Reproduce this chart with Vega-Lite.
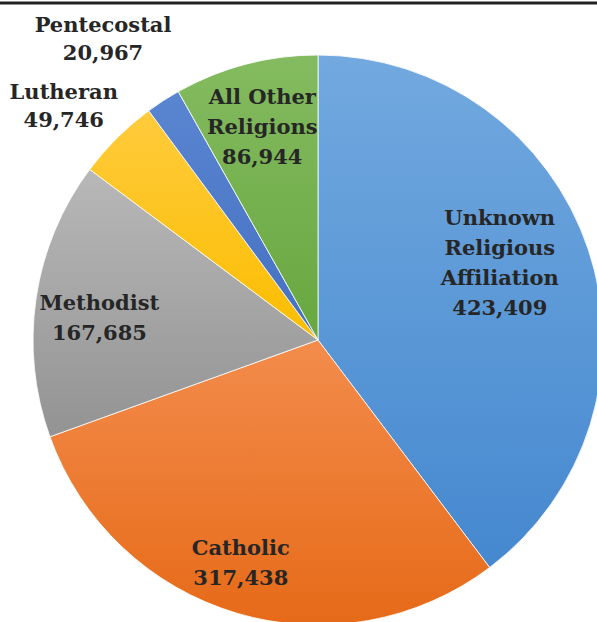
{
  "$schema": "https://vega.github.io/schema/vega-lite/v6.json",
  "width": 636,
  "height": 680,
  "autosize": {"type": "none"},
  "padding": 0,
  "background": "white",
  "config": {"view": {"stroke": null}},
  "data": {"values": [
    {"cat": "Unknown Religious Affiliation", "value": 423409, "ord": 1, "label": "Unknown\nReligious\nAffiliation\n423,409"},
    {"cat": "Catholic", "value": 317438, "ord": 2, "label": "Catholic\n317,438"},
    {"cat": "Methodist", "value": 167685, "ord": 3, "label": "Methodist\n167,685"},
    {"cat": "Lutheran", "value": 49746, "ord": 4, "label": "Lutheran\n49,746"},
    {"cat": "Pentecostal", "value": 20967, "ord": 5, "label": "Pentecostal\n20,967"},
    {"cat": "All Other Religions", "value": 86944, "ord": 6, "label": "All Other\nReligions\n86,944"}
  ]},
  "encoding": {
    "theta": {"field": "value", "type": "quantitative", "stack": true},
    "order": {"field": "ord", "type": "quantitative"}
  },
  "layer": [
    {
      "mark": {"type": "arc", "outerRadius": 285, "stroke": "white", "strokeWidth": 0.8,
        "fill": {"gradient": "linear", "x1": 0, "y1": 0, "x2": 0, "y2": 1, "stops": [{"offset": 0, "color": "#72a9df"}, {"offset": 1, "color": "#4588cf"}]}},
      "encoding": {"opacity": {"condition": {"test": "datum.ord === 1", "value": 1}, "value": 0}}
    },
    {
      "mark": {"type": "arc", "outerRadius": 285, "stroke": "white", "strokeWidth": 0.8,
        "fill": {"gradient": "linear", "x1": 0, "y1": 0, "x2": 0, "y2": 1, "stops": [{"offset": 0, "color": "#f38c4c"}, {"offset": 1, "color": "#e66a18"}]}},
      "encoding": {"opacity": {"condition": {"test": "datum.ord === 2", "value": 1}, "value": 0}}
    },
    {
      "mark": {"type": "arc", "outerRadius": 285, "stroke": "white", "strokeWidth": 0.8,
        "fill": {"gradient": "linear", "x1": 0, "y1": 0, "x2": 0, "y2": 1, "stops": [{"offset": 0, "color": "#b8b8b8"}, {"offset": 1, "color": "#939393"}]}},
      "encoding": {"opacity": {"condition": {"test": "datum.ord === 3", "value": 1}, "value": 0}}
    },
    {
      "mark": {"type": "arc", "outerRadius": 285, "stroke": "white", "strokeWidth": 0.8,
        "fill": {"gradient": "linear", "x1": 0, "y1": 0, "x2": 0, "y2": 1, "stops": [{"offset": 0, "color": "#ffcb3c"}, {"offset": 1, "color": "#fbbd00"}]}},
      "encoding": {"opacity": {"condition": {"test": "datum.ord === 4", "value": 1}, "value": 0}}
    },
    {
      "mark": {"type": "arc", "outerRadius": 285, "stroke": "white", "strokeWidth": 0.8,
        "fill": {"gradient": "linear", "x1": 0, "y1": 0, "x2": 0, "y2": 1, "stops": [{"offset": 0, "color": "#5a85d0"}, {"offset": 1, "color": "#4470c2"}]}},
      "encoding": {"opacity": {"condition": {"test": "datum.ord === 5", "value": 1}, "value": 0}}
    },
    {
      "mark": {"type": "arc", "outerRadius": 285, "stroke": "white", "strokeWidth": 0.8,
        "fill": {"gradient": "linear", "x1": 0, "y1": 0, "x2": 0, "y2": 1, "stops": [{"offset": 0, "color": "#84bb60"}, {"offset": 1, "color": "#68a73f"}]}},
      "encoding": {"opacity": {"condition": {"test": "datum.ord === 6", "value": 1}, "value": 0}}
    },
    {
      "mark": {"type": "text", "radius": 198, "dx": -6, "dy": -58, "font": "DejaVu Serif", "fontWeight": "bold", "fontSize": 21, "lineHeight": 30, "fill": "#262626", "align": "center", "baseline": "middle", "lineBreak": "\n"},
      "encoding": {"text": {"condition": {"test": "datum.ord === 1", "field": "label"}, "value": ""}}
    },
    {
      "mark": {"type": "text", "radius": 236, "dx": -10, "dy": -17, "font": "DejaVu Serif", "fontWeight": "bold", "fontSize": 21, "lineHeight": 30, "fill": "#262626", "align": "center", "baseline": "middle", "lineBreak": "\n"},
      "encoding": {"text": {"condition": {"test": "datum.ord === 2", "field": "label"}, "value": ""}}
    },
    {
      "mark": {"type": "text", "radius": 220, "dx": -1, "dy": -4, "font": "DejaVu Serif", "fontWeight": "bold", "fontSize": 21, "lineHeight": 30, "fill": "#262626", "align": "center", "baseline": "middle", "lineBreak": "\n"},
      "encoding": {"text": {"condition": {"test": "datum.ord === 3", "field": "label"}, "value": ""}}
    },
    {
      "mark": {"type": "text", "radius": 345, "dx": -11, "dy": -2, "font": "DejaVu Serif", "fontWeight": "bold", "fontSize": 21, "lineHeight": 28, "fill": "#262626", "align": "center", "baseline": "middle", "lineBreak": "\n"},
      "encoding": {"text": {"condition": {"test": "datum.ord === 4", "field": "label"}, "value": ""}}
    },
    {
      "mark": {"type": "text", "radius": 370, "dx": -14, "dy": -3, "font": "DejaVu Serif", "fontWeight": "bold", "fontSize": 21, "lineHeight": 28, "fill": "#262626", "align": "center", "baseline": "middle", "lineBreak": "\n"},
      "encoding": {"text": {"condition": {"test": "datum.ord === 5", "field": "label"}, "value": ""}}
    },
    {
      "mark": {"type": "text", "radius": 220, "dx": 0, "dy": -29, "font": "DejaVu Serif", "fontWeight": "bold", "fontSize": 21, "lineHeight": 30, "fill": "#262626", "align": "center", "baseline": "middle", "lineBreak": "\n"},
      "encoding": {"text": {"condition": {"test": "datum.ord === 6", "field": "label"}, "value": ""}}
    },
    {
      "data": {"values": [{}]},
      "mark": {"type": "rule", "stroke": "#222222", "strokeWidth": 3},
      "encoding": {"y": {"value": 3}, "theta": null, "order": null}
    }
  ]
}
